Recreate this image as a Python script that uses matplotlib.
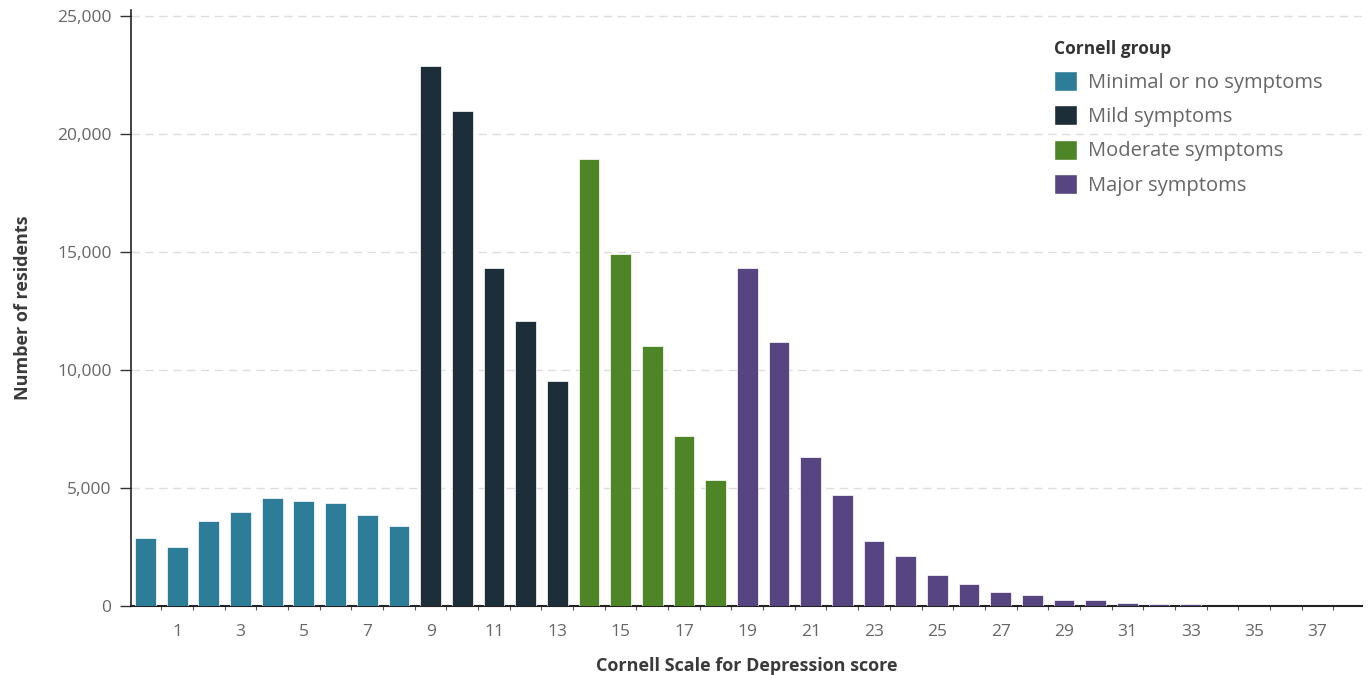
import numpy as np
import matplotlib.pyplot as plt
from matplotlib.patches import Patch
from matplotlib.ticker import FuncFormatter

plt.rcParams['font.family'] = ['Open Sans', 'DejaVu Sans']

# Cornell Scale score 0..37 and number of residents per score
scores = list(range(38))
residents = [2880, 2500, 3600, 3980, 4580, 4450, 4360, 3850, 3390,
             22880, 20975, 14320, 12080, 9530,
             18940, 14915, 11015, 7200, 5340,
             14320, 11190, 6310, 4700, 2760, 2120, 1310, 930, 590, 470,
             260, 260, 130, 100, 100, 0, 0, 0, 0]
groups = (['Minimal or no symptoms'] * 9 + ['Mild symptoms'] * 5 +
          ['Moderate symptoms'] * 5 + ['Major symptoms'] * 19)
group_names = ['Minimal or no symptoms', 'Mild symptoms',
               'Moderate symptoms', 'Major symptoms']
group_colors = {'Minimal or no symptoms': '#2d7d98',
                'Mild symptoms': '#1c2f38',
                'Moderate symptoms': '#4e8527',
                'Major symptoms': '#564580'}
tick_labels = list(range(1, 38, 2))

fig = plt.figure(figsize=(13.72, 6.75), dpi=100)
ax = fig.add_axes([0.0955, 0.102, 0.897, 0.883])

cols = [group_colors[g] for g in groups]
ax.bar(scores, residents, width=0.66, color=cols, edgecolor='white', linewidth=0.5, zorder=3)

ax.set_xlim(-0.46, 38.4)
ax.set_ylim(0, 25250)
ax.set_yticks(np.arange(0, 25001, 5000))
ax.yaxis.set_major_formatter(FuncFormatter(lambda v, p: f'{int(v):,}'))
ax.set_xticks(tick_labels)
ax.set_xticklabels([str(t) for t in tick_labels])
ax.set_xticks(np.arange(0.5, 38, 1), minor=True)
ax.tick_params(axis='x', which='major', length=0, pad=13, labelsize=12.5, labelcolor='#666666')
ax.tick_params(axis='x', which='minor', length=3, width=0.8, color='#555555', direction='out')
ax.tick_params(axis='y', length=8, width=1, color='#333333', pad=6, labelsize=12.5, labelcolor='#666666')

for v in range(5000, 25001, 5000):
    ax.axhline(v, color='#dddddd', linewidth=1, linestyle=(0, (6, 4)), zorder=1)

for s in ['top', 'right']:
    ax.spines[s].set_visible(False)
ax.spines['left'].set_color('#222222')
ax.spines['left'].set_linewidth(1.2)
ax.spines['bottom'].set_color('#222222')
ax.spines['bottom'].set_linewidth(1.5)

ax.set_ylabel('Number of residents', fontsize=13, fontweight='bold', color='#3a3a3a', labelpad=18)
ax.set_xlabel('Cornell Scale for Depression score', fontsize=13, fontweight='bold', color='#3a3a3a', labelpad=12)

handles = [Patch(facecolor=group_colors[g], edgecolor='white', label=g) for g in group_names]
leg = fig.legend(handles=handles, title='Cornell group', loc='upper left',
                 bbox_to_anchor=(0.762, 0.952), frameon=False, fontsize=14.5,
                 title_fontsize=12.5, handlelength=1.15, handleheight=1.15,
                 handletextpad=0.55, labelspacing=0.62, alignment='left', borderaxespad=0)
leg.get_title().set_fontweight('bold')
leg.get_title().set_color('#333333')
for t in leg.get_texts():
    t.set_color('#666666')

fig.savefig('out.png', dpi=100)
